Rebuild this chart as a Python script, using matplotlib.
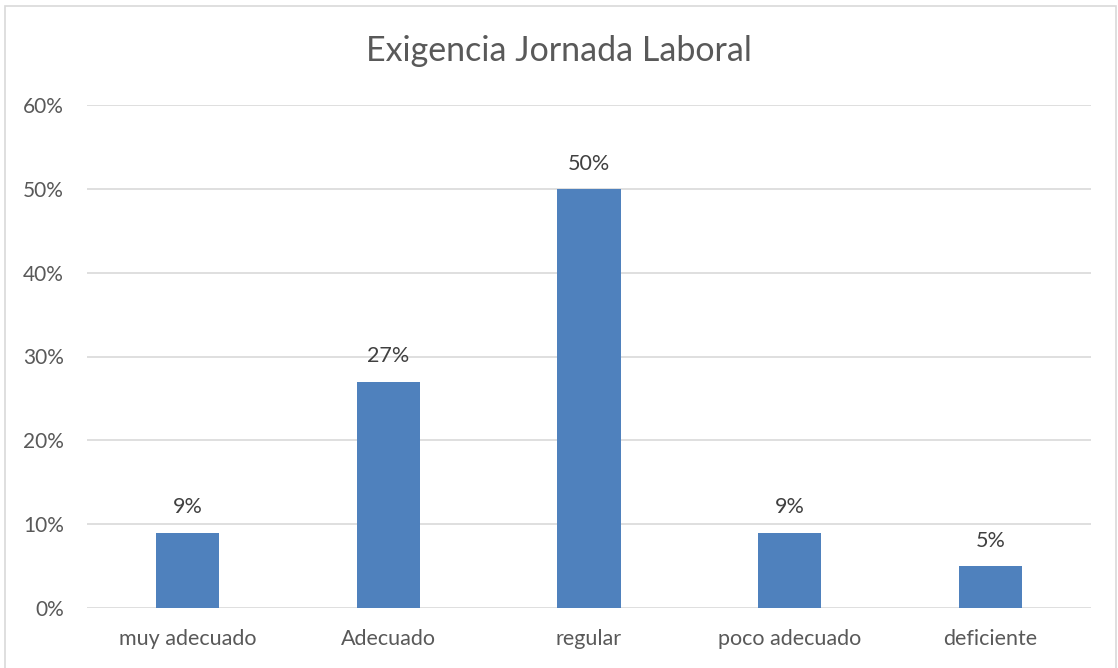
import matplotlib
matplotlib.use("Agg")
import matplotlib.pyplot as plt
from matplotlib.patches import Rectangle

categories = ["muy adecuado", "Adecuado", "regular", "poco adecuado", "deficiente"]
values = [0.09, 0.27, 0.50, 0.09, 0.05]
value_labels = ["9%", "27%", "50%", "9%", "5%"]
yticks = [0, 0.1, 0.2, 0.3, 0.4, 0.5, 0.6]
ytick_labels = ["0%", "10%", "20%", "30%", "40%", "50%", "60%"]
title = "Exigencia Jornada Laboral"

plt.rcParams['font.family'] = ['Lato', 'DejaVu Sans']

W, H = 1118, 668
fig = plt.figure(figsize=(W / 100, H / 100), dpi=100)
fig.patch.set_facecolor("white")

# outer chart border
fig.add_artist(Rectangle((5 / W, -0.01), (1116 - 5) / W, 1 - 6 / H + 0.01,
                         transform=fig.transFigure, fill=False,
                         edgecolor="#D9D9D9", linewidth=1.2))

ax = fig.add_axes([87 / W, 1 - 608 / H, (1091 - 87) / W, (608 - 105) / H])
x = list(range(len(categories)))
ax.bar(x, values, width=0.315, color="#4F81BD", zorder=3)
ax.set_xlim(-0.5, len(categories) - 0.5)
ax.set_ylim(0, 0.6)
ax.set_yticks(yticks)
ax.set_yticklabels(ytick_labels)
ax.set_xticks(x)
ax.set_xticklabels(categories)
ax.grid(axis="y", color="#D9D9D9", linewidth=1.2, zorder=0)
for s in ax.spines.values():
    s.set_visible(False)
ax.tick_params(axis="both", length=0, labelsize=15.5, colors="#595959")
ax.tick_params(axis="y", labelsize=15, pad=16.5)
ax.tick_params(axis="x", pad=15)
for xi, v, lab in zip(x, values, value_labels):
    ax.annotate(lab, (xi, v), xytext=(0, 11), textcoords="offset points",
                ha="center", va="bottom", fontsize=15.5, color="#404040")

fig.text(0.5, 1 - 51 / H, title, ha="center", va="center", fontsize=24.5, color="#595959")

fig.savefig("out.png", dpi=100, facecolor="white")
